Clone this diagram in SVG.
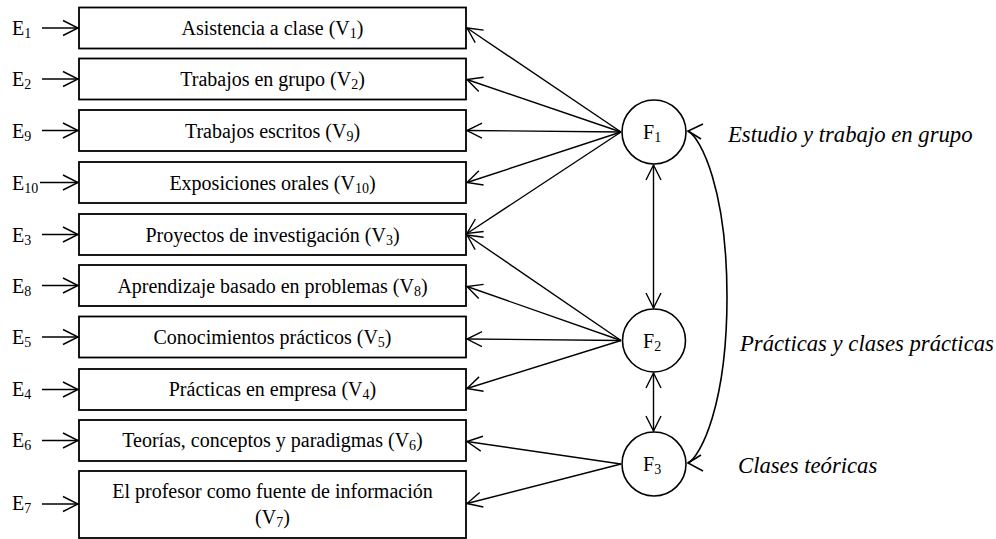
<svg xmlns="http://www.w3.org/2000/svg" width="996" height="539" viewBox="0 0 996 539">
  <style>
    .box { fill: #fff; stroke: #000; stroke-width: 1.8; }
    .fac { fill: #fff; stroke: #000; stroke-width: 1.6; }
    .lbl { font-family: "Liberation Serif", "Times New Roman", serif; font-size: 20px; fill: #000; }
    .mid { text-anchor: middle; }
    .it { font-family: "Liberation Serif", "Times New Roman", serif; font-style: italic; font-size: 22.7px; fill: #000; }
    .sub { font-size: 14px; }
    .ln { fill: none; stroke: #000; stroke-width: 1.4; marker-end: url(#ah); }
    .dbl { fill: none; stroke: #000; stroke-width: 1.4; marker-start: url(#ah); marker-end: url(#ah); }
    .crv { fill: none; stroke: #000; stroke-width: 1.6; }
  </style>
  <defs>
    <marker id="ah" viewBox="-17 -9 19 18" refX="0" refY="0" markerWidth="19" markerHeight="18" markerUnits="userSpaceOnUse" orient="auto-start-reverse">
      <path d="M-15,-7.5 L0,0 L-15,7.5" fill="none" stroke="#000" stroke-width="1.4"/>
    </marker>
  </defs>

  <!-- error terms feeding the observed variables -->
  <g id="errors">
    <text class="lbl" x="12" y="35">E<tspan class="sub" dy="3">1</tspan></text>
    <text class="lbl" x="12" y="86">E<tspan class="sub" dy="3">2</tspan></text>
    <text class="lbl" x="12" y="137.5">E<tspan class="sub" dy="3">9</tspan></text>
    <text class="lbl" x="12" y="189.5">E<tspan class="sub" dy="3">10</tspan></text>
    <text class="lbl" x="12" y="241.5">E<tspan class="sub" dy="3">3</tspan></text>
    <text class="lbl" x="12" y="292.5">E<tspan class="sub" dy="3">8</tspan></text>
    <text class="lbl" x="12" y="344">E<tspan class="sub" dy="3">5</tspan></text>
    <text class="lbl" x="12" y="395.5">E<tspan class="sub" dy="3">4</tspan></text>
    <text class="lbl" x="12" y="446.5">E<tspan class="sub" dy="3">6</tspan></text>
    <text class="lbl" x="12" y="509.5">E<tspan class="sub" dy="3">7</tspan></text>
  </g>

  <!-- observed variables -->
  <g id="v1">
    <rect class="box" x="79" y="7.5" width="387" height="41"/>
    <text class="lbl mid" x="272.5" y="35">Asistencia a clase (V<tspan class="sub" dy="3">1</tspan><tspan dy="-3">)</tspan></text>
  </g>
  <g id="v2">
    <rect class="box" x="79" y="58.5" width="387" height="41"/>
    <text class="lbl mid" x="272.5" y="86">Trabajos en grupo (V<tspan class="sub" dy="3">2</tspan><tspan dy="-3">)</tspan></text>
  </g>
  <g id="v9">
    <rect class="box" x="79" y="110" width="387" height="41"/>
    <text class="lbl mid" x="272.5" y="137.5">Trabajos escritos (V<tspan class="sub" dy="3">9</tspan><tspan dy="-3">)</tspan></text>
  </g>
  <g id="v10">
    <rect class="box" x="79" y="162" width="387" height="41"/>
    <text class="lbl mid" x="272.5" y="189.5">Exposiciones orales (V<tspan class="sub" dy="3">10</tspan><tspan dy="-3">)</tspan></text>
  </g>
  <g id="v3">
    <rect class="box" x="79" y="214" width="387" height="41"/>
    <text class="lbl mid" x="272.5" y="241.5">Proyectos de investigación (V<tspan class="sub" dy="3">3</tspan><tspan dy="-3">)</tspan></text>
  </g>
  <g id="v8">
    <rect class="box" x="79" y="265" width="387" height="41"/>
    <text class="lbl mid" x="272.5" y="292.5">Aprendizaje basado en problemas (V<tspan class="sub" dy="3">8</tspan><tspan dy="-3">)</tspan></text>
  </g>
  <g id="v5">
    <rect class="box" x="79" y="316.5" width="387" height="41"/>
    <text class="lbl mid" x="272.5" y="344">Conocimientos prácticos (V<tspan class="sub" dy="3">5</tspan><tspan dy="-3">)</tspan></text>
  </g>
  <g id="v4">
    <rect class="box" x="79" y="369" width="387" height="41"/>
    <text class="lbl mid" x="272.5" y="395.5">Prácticas en empresa (V<tspan class="sub" dy="3">4</tspan><tspan dy="-3">)</tspan></text>
  </g>
  <g id="v6">
    <rect class="box" x="79" y="420" width="387" height="41"/>
    <text class="lbl mid" x="272.5" y="446.5">Teorías, conceptos y paradigmas (V<tspan class="sub" dy="3">6</tspan><tspan dy="-3">)</tspan></text>
  </g>
  <g id="v7">
    <rect class="box" x="79" y="471" width="387" height="67"/>
    <text class="lbl mid" x="272.5" y="498">El profesor como fuente de información</text>
    <text class="lbl mid" x="272.5" y="524">(V<tspan class="sub" dy="3">7</tspan><tspan dy="-3">)</tspan></text>
  </g>

  <!-- latent factors -->
  <g id="f1">
    <circle class="fac" cx="654" cy="132" r="32"/>
    <text class="lbl" x="643" y="139">F<tspan class="sub" dy="3">1</tspan></text>
  </g>
  <g id="f2">
    <circle class="fac" cx="654" cy="340.5" r="31.5"/>
    <text class="lbl" x="643" y="347.5">F<tspan class="sub" dy="3">2</tspan></text>
  </g>
  <g id="f3">
    <circle class="fac" cx="654" cy="464" r="32"/>
    <text class="lbl" x="643" y="471">F<tspan class="sub" dy="3">3</tspan></text>
  </g>

  <!-- factor names -->
  <g id="names">
    <text class="it" x="728" y="142">Estudio y trabajo en grupo</text>
    <text class="it" x="740" y="351">Prácticas y clases prácticas</text>
    <text class="it" x="738" y="473">Clases teóricas</text>
  </g>

  <g id="connectors">
    <!-- errors to variables -->
    <line class="ln" x1="42" y1="28" x2="78" y2="28"/>
    <line class="ln" x1="42" y1="79" x2="78" y2="79"/>
    <line class="ln" x1="42" y1="130.5" x2="78" y2="130.5"/>
    <line class="ln" x1="40" y1="182.5" x2="78" y2="182.5"/>
    <line class="ln" x1="42" y1="234.5" x2="78" y2="234.5"/>
    <line class="ln" x1="42" y1="285.5" x2="78" y2="285.5"/>
    <line class="ln" x1="42" y1="337" x2="78" y2="337"/>
    <line class="ln" x1="42" y1="389.5" x2="78" y2="389.5"/>
    <line class="ln" x1="42" y1="440.5" x2="78" y2="440.5"/>
    <line class="ln" x1="42" y1="504" x2="78" y2="504"/>

    <!-- F1 loadings -->
    <line class="ln" x1="621" y1="132" x2="467" y2="28"/>
    <line class="ln" x1="621" y1="132" x2="467" y2="79.5"/>
    <line class="ln" x1="621" y1="132" x2="467" y2="130.5"/>
    <line class="ln" x1="621" y1="132" x2="467" y2="182.5"/>
    <line class="ln" x1="621" y1="132" x2="467" y2="233.5"/>

    <!-- F2 loadings -->
    <line class="ln" x1="621" y1="340.5" x2="467" y2="235"/>
    <line class="ln" x1="621" y1="340.5" x2="467" y2="286.5"/>
    <line class="ln" x1="621" y1="340.5" x2="467" y2="339"/>
    <line class="ln" x1="621" y1="340.5" x2="467" y2="388.5"/>

    <!-- F3 loadings -->
    <line class="ln" x1="621" y1="464" x2="467" y2="441.5"/>
    <line class="ln" x1="621" y1="464" x2="467" y2="503.5"/>

    <!-- factor correlations -->
    <line class="dbl" x1="653.5" y1="165" x2="653.5" y2="308"/>
    <line class="dbl" x1="653.5" y1="373" x2="653.5" y2="431"/>
    <path class="crv" d="M688,131 C701,138 727,190 727,297 C727,404 701,456 688,463"/>
    <path class="crv" d="M703,124 L688,131 L701,139"/>
    <path class="crv" d="M701,455 L688,463 L703,471"/>
  </g>
</svg>
